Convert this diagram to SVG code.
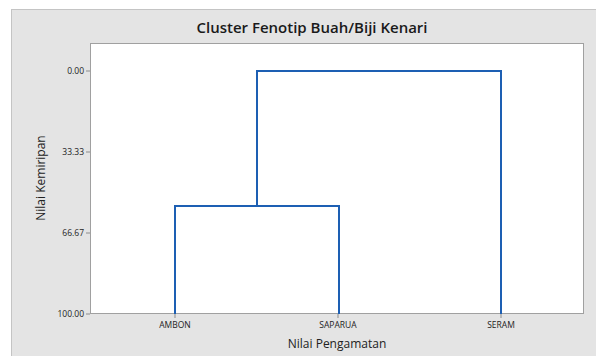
<svg xmlns="http://www.w3.org/2000/svg" width="596" height="356" viewBox="0 0 596 356">
<style>
text{font-family:"Open Sans","Noto Sans","DejaVu Sans",sans-serif;fill:#1a1a1a}
.tick{font-size:8.5px;fill:#222}
.ax{font-size:12px;font-weight:500;fill:#222}
.t{stroke:#8c8c8c;stroke-width:1}
.link{fill:none;stroke:#1d5fb3;stroke-width:2;stroke-linejoin:miter}
</style>
<rect x="0" y="0" width="596" height="356" fill="#ffffff"/>
<rect x="11.5" y="9.5" width="590" height="350" fill="#e4e4e4" stroke="#c4c4c4" stroke-width="1"/>
<text x="312" y="33" text-anchor="middle" font-size="15" font-weight="600">Cluster Fenotip Buah/Biji Kenari</text>
<rect x="90.5" y="43.5" width="493" height="270" fill="#ffffff" stroke="#a0a0a0" stroke-width="1"/>
<g id="yaxis">
<line class="t" x1="86" y1="71" x2="90" y2="71"/>
<line class="t" x1="86" y1="152" x2="90" y2="152"/>
<line class="t" x1="86" y1="233" x2="90" y2="233"/>
<line class="t" x1="86" y1="314" x2="90" y2="314"/>
<text class="tick" x="84" y="74" text-anchor="end">0.00</text>
<text class="tick" x="84" y="155" text-anchor="end">33.33</text>
<text class="tick" x="84" y="236" text-anchor="end">66.67</text>
<text class="tick" x="84" y="317" text-anchor="end">100.00</text>
<text class="ax" transform="translate(45,178) rotate(-90)" text-anchor="middle">Nilai Kemiripan</text>
</g>
<g id="xaxis">
<line class="t" x1="175" y1="314" x2="175" y2="318"/>
<line class="t" x1="338" y1="314" x2="338" y2="318"/>
<line class="t" x1="501" y1="314" x2="501" y2="318"/>
<text class="tick" x="175" y="328" text-anchor="middle">AMBON</text>
<text class="tick" x="338" y="328" text-anchor="middle">SAPARUA</text>
<text class="tick" x="501" y="328" text-anchor="middle">SERAM</text>
<text class="ax" x="337" y="348" text-anchor="middle">Nilai Pengamatan</text>
</g>
<g id="connectors">
<path class="link" d="M175,314 V206 H339 V314"/>
<path class="link" d="M257,206 V71 H501 V314"/>
</g>
</svg>
